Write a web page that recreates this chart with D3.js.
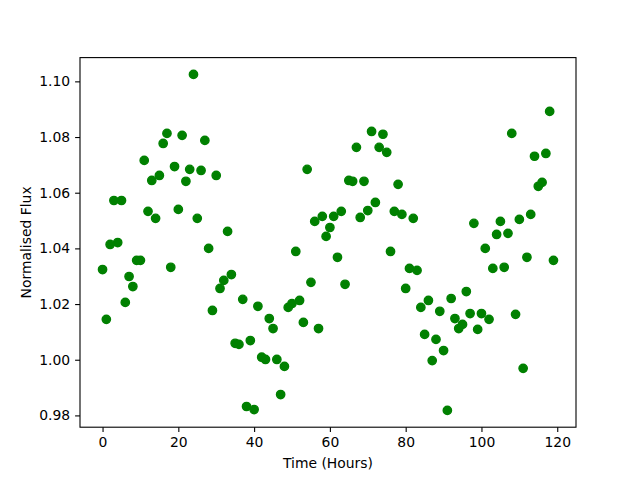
<!DOCTYPE html>
<html>
<head>
<meta charset="utf-8">
<script src="https://cdn.jsdelivr.net/npm/d3@7"></script>
<style>
  body { margin: 0; background: #fff; }
  text { font-family: "DejaVu Sans", sans-serif; }
</style>
</head>
<body>
<svg id="chart" width="640" height="480"></svg>
<script>
// hours since start of observation
const hours = d3.range(0, 120);

// normalised flux, one value per hour
const flux = [
  1.0324, 1.0145, 1.0414, 1.0572, 1.0421, 1.0572, 1.0206, 1.0299, 1.0263, 1.0357,
  1.0357, 1.0716, 1.0533, 1.0644, 1.0508, 1.0662, 1.0777, 1.0813, 1.0332, 1.0694,
  1.0540, 1.0806, 1.0641, 1.0684, 1.1025, 1.0508, 1.0680, 1.0788, 1.0400, 1.0177,
  1.0662, 1.0256, 1.0285, 1.0461, 1.0306, 1.0059, 1.0055, 1.0217, 0.9832, 1.0069,
  0.9821, 1.0192, 1.0009, 1.0001, 1.0148, 1.0112, 1.0001, 0.9875, 0.9976, 1.0188,
  1.0202, 1.0389, 1.0213, 1.0134, 1.0684, 1.0278, 1.0497, 1.0112, 1.0515, 1.0443,
  1.0475, 1.0515, 1.0368, 1.0533, 1.0271, 1.0644, 1.0641, 1.0763, 1.0511, 1.0641,
  1.0536, 1.0820, 1.0565, 1.0763, 1.0810, 1.0745, 1.0389, 1.0533, 1.0630, 1.0522,
  1.0256, 1.0328, 1.0508, 1.0321, 1.0188, 1.0091, 1.0213, 0.9997, 1.0073, 1.0174,
  1.0033, 0.9818, 1.0220, 1.0148, 1.0112, 1.0127, 1.0245, 1.0166, 1.0490, 1.0109,
  1.0166, 1.0400, 1.0145, 1.0328, 1.0450, 1.0497, 1.0332, 1.0454, 1.0813, 1.0163,
  1.0504, 0.9969, 1.0368, 1.0522, 1.0731, 1.0623, 1.0637, 1.0741, 1.0892, 1.0357
];

const xTicks = [0, 20, 40, 60, 80, 100, 120];
const yTicks = [0.98, 1.00, 1.02, 1.04, 1.06, 1.08, 1.10];

const svg = d3.select("#chart");
const margin = { left: 80, right: 64, top: 57.6, bottom: 52.8 };
const width = 640 - margin.left - margin.right;
const height = 480 - margin.top - margin.bottom;

// matplotlib style 5% padding around the data
function padded(ext) {
  const pad = (ext[1] - ext[0]) * 0.05;
  return [ext[0] - pad, ext[1] + pad];
}

const x = d3.scaleLinear()
  .domain(padded(d3.extent(hours)))
  .range([margin.left, margin.left + width]);
const y = d3.scaleLinear()
  .domain(padded(d3.extent(flux)))
  .range([margin.top + height, margin.top]);

const points = hours.map((h, i) => ({ h: h, f: flux[i] }));

svg.append("g")
  .selectAll("circle")
  .data(points)
  .enter()
  .append("circle")
  .attr("cx", d => x(d.h))
  .attr("cy", d => y(d.f))
  .attr("r", 4.17)
  .attr("fill", "#008000")
  .attr("stroke", "#008000")
  .attr("stroke-width", 1.39);

// frame
svg.append("rect")
  .attr("x", margin.left)
  .attr("y", margin.top)
  .attr("width", width)
  .attr("height", height)
  .attr("fill", "none")
  .attr("stroke", "#000")
  .attr("stroke-width", 1.1);

const xAxis = svg.append("g")
  .attr("transform", `translate(0,${margin.top + height})`)
  .call(d3.axisBottom(x).tickValues(xTicks).tickSize(4.9).tickPadding(4.9).tickFormat(d3.format("d")));
const yAxis = svg.append("g")
  .attr("transform", `translate(${margin.left},0)`)
  .call(d3.axisLeft(y).tickValues(yTicks).tickSize(4.9).tickPadding(4.9).tickFormat(d3.format(".2f")));

[xAxis, yAxis].forEach(ax => {
  ax.select(".domain").remove();
  ax.selectAll(".tick line").attr("stroke", "#000").attr("stroke-width", 1.1);
  ax.selectAll(".tick text")
    .attr("fill", "#000")
    .style("font-family", "DejaVu Sans, sans-serif")
    .style("font-size", "13.9px");
});

svg.append("text")
  .attr("x", margin.left + width / 2)
  .attr("y", 468)
  .attr("text-anchor", "middle")
  .style("font-size", "13.9px")
  .text("Time (Hours)");

svg.append("text")
  .attr("transform", `translate(31,${margin.top + height / 2}) rotate(-90)`)
  .attr("text-anchor", "middle")
  .style("font-size", "13.9px")
  .text("Normalised Flux");
</script>
</body>
</html>
